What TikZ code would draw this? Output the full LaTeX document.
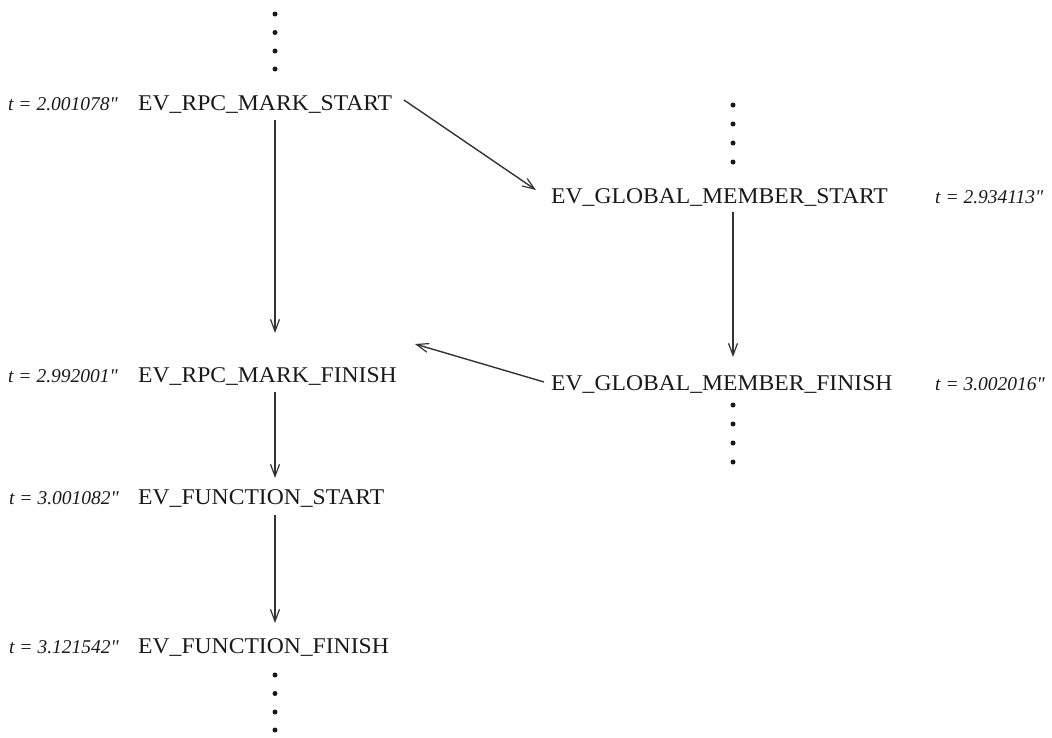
\documentclass[tikz,border=0pt]{standalone}
\usepackage{fontspec}
\setmainfont{Liberation Serif}
\newfontfamily\evfont[FakeStretch=1.05]{Liberation Serif}
\usetikzlibrary{arrows.meta,calc}
\begin{document}
\begin{tikzpicture}[x=1pt,y=-1pt,
  ev/.style={anchor=base west,inner sep=0pt,text=black!90,font=\evfont\fontsize{22.5}{26}\selectfont},
  tlab/.style={anchor=base west,inner sep=0pt,text=black!90,font=\fontsize{19.5}{22}\selectfont\itshape},
  arr/.style={draw=black!80,line width=1.4pt,-{Straight Barb[length=12pt,width=9pt,line width=1.2pt]}},
  vdot/.style={circle,fill=black!90,inner sep=0pt,minimum size=5pt}]
\useasboundingbox (0,0) rectangle (1052,737);
\coordinate (cL) at (275,0);
\coordinate (cR) at (733,0);
% left column
\node[tlab] (t1) at (8,110) {t = 2.001078\textquotedbl};
\node[ev] (rpcS) at (138,110) {EV\_RPC\_MARK\_START};
\node[tlab] (t2) at (8,382) {t = 2.992001\textquotedbl};
\node[ev] (rpcF) at (138,382) {EV\_RPC\_MARK\_FINISH};
\node[tlab] (t3) at (9,504) {t = 3.001082\textquotedbl};
\node[ev] (fnS) at (138,504) {EV\_FUNCTION\_START};
\node[tlab] (t4) at (9,653) {t = 3.121542\textquotedbl};
\node[ev] (fnF) at (138,653) {EV\_FUNCTION\_FINISH};
% right column
\node[ev] (gS) at (551,203) {EV\_GLOBAL\_MEMBER\_START};
\node[tlab] (t5) at (935,203) {t = 2.934113\textquotedbl};
\node[ev] (gF) at (551,390) {EV\_GLOBAL\_MEMBER\_FINISH};
\node[tlab] (t6) at (935,390) {t = 3.002016\textquotedbl};
% dots
\foreach \y [count=\i] in {14,32.5,51,69} \node[vdot] (dA\i) at (275,\y) {};
\foreach \y [count=\i] in {105,124,143,162} \node[vdot] (dB\i) at (733,\y) {};
\foreach \y [count=\i] in {405,424,443,462} \node[vdot] (dC\i) at (733,\y) {};
\foreach \y [count=\i] in {675,693.5,712,730} \node[vdot] (dD\i) at (275,\y) {};
% connectors
\draw[arr] ($(rpcS.base -| cL)+(0,10)$) -- ($(rpcF.base -| cL)+(0,-49)$);
\draw[arr] ($(rpcF.base -| cL)+(0,10)$) -- ($(fnS.base -| cL)+(0,-26)$);
\draw[arr] ($(fnS.base -| cL)+(0,11)$) -- ($(fnF.base -| cL)+(0,-30)$);
\draw[arr] ($(gS.base -| cR)+(0,9)$) -- ($(gF.base -| cR)+(0,-33)$);
\draw[arr] ($(rpcS.base west)+(266,-10)$) -- ($(gS.base west)+(-15,-13)$);
\draw[arr] ($(gF.base west)+(-7,-8)$) -- ($(rpcF.base west)+(277,-38)$);
\end{tikzpicture}
\end{document}
